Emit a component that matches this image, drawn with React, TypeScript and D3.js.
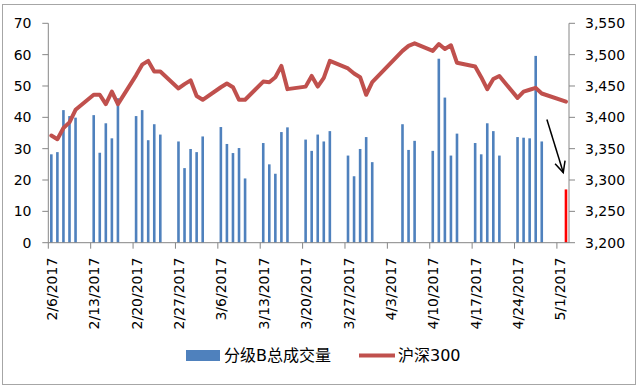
import React from "react";
import * as d3 from "d3";

const tradeDates: string[] = [
  "2017-02-06","2017-02-07","2017-02-08","2017-02-09","2017-02-10",
  "2017-02-13","2017-02-14","2017-02-15","2017-02-16","2017-02-17",
  "2017-02-20","2017-02-21","2017-02-22","2017-02-23","2017-02-24",
  "2017-02-27","2017-02-28","2017-03-01","2017-03-02","2017-03-03",
  "2017-03-06","2017-03-07","2017-03-08","2017-03-09","2017-03-10",
  "2017-03-13","2017-03-14","2017-03-15","2017-03-16","2017-03-17",
  "2017-03-20","2017-03-21","2017-03-22","2017-03-23","2017-03-24",
  "2017-03-27","2017-03-28","2017-03-29","2017-03-30","2017-03-31",
  "2017-04-05","2017-04-06","2017-04-07",
  "2017-04-10","2017-04-11","2017-04-12","2017-04-13","2017-04-14",
  "2017-04-17","2017-04-18","2017-04-19","2017-04-20","2017-04-21",
  "2017-04-24","2017-04-25","2017-04-26","2017-04-27","2017-04-28",
  "2017-05-02",
];

const volumeB: number[] = [
  28.2, 28.9, 42.3, 40.4, 39.9,
  40.7, 28.7, 38.1, 33.3, 46.1,
  40.4, 42.3, 32.7, 37.8, 34.5,
  32.3, 23.8, 29.9, 28.9, 33.9,
  36.9, 31.5, 28.6, 30.2, 20.5,
  31.8, 25.0, 22.0, 35.3, 36.8,
  32.9, 29.3, 34.5, 32.3, 35.6,
  27.8, 21.2, 29.9, 33.7, 25.7,
  37.8, 29.6, 32.5,
  29.3, 58.7, 46.3, 27.8, 34.8,
  31.8, 28.2, 38.1, 35.6, 27.8,
  33.7, 33.5, 33.3, 59.6, 32.3,
  17.0,
];

const hs300: number[] = [
  3371, 3365, 3383, 3392, 3412,
  3436, 3436, 3421, 3441, 3421,
  3467, 3484, 3490, 3473, 3473,
  3446, 3453, 3459, 3434, 3428,
  3448, 3454, 3448, 3428, 3428,
  3457, 3456, 3464, 3482, 3445,
  3449, 3466, 3449, 3463, 3490,
  3478, 3470, 3464, 3436, 3456,
  3506, 3514, 3518,
  3506, 3517, 3509, 3515, 3487,
  3481, 3464, 3445, 3461, 3466,
  3431, 3441, 3444, 3447, 3438,
  3425,
];

const xTickDates: string[] = [
  "2017-02-06","2017-02-13","2017-02-20","2017-02-27","2017-03-06","2017-03-13",
  "2017-03-20","2017-03-27","2017-04-03","2017-04-10","2017-04-17","2017-04-24","2017-05-01",
];
const leftTicks: number[] = [0, 10, 20, 30, 40, 50, 60, 70];
const rightTicks: number[] = [3200, 3250, 3300, 3350, 3400, 3450, 3500, 3550];
const seriesNames: string[] = ["分级B总成交量", "沪深300"];
// arrow annotation in data coordinates (days after 2/6, left-axis value)
const arrowFrom = { day: 82.35, value: 39.3 };
const arrowTo = { day: 85.05, value: 22.4 };

const FONT = "'DejaVu Sans', 'Noto Sans CJK SC', sans-serif";
const BLUE = "#4F81BD";
const RED_LINE = "#C0504D";
const AXIS = "#868686";

const parse = d3.utcParse("%Y-%m-%d");
const fmt = d3.utcFormat("%-m/%-d/%Y");

export default function App() {
  const W = 640, H = 390;
  const left = 48.3, right = 569, top = 23.3, bottom = 242.7;
  const dStart = parse("2017-02-06")!;
  const dEnd = parse("2017-05-03")!;
  const x = d3.scaleUtc().domain([dStart, dEnd]).range([left, right]);
  const yL = d3.scaleLinear().domain([0, 70]).range([bottom, top]);
  const yR = d3.scaleLinear().domain([3200, 3550]).range([bottom, top]);
  const half = 12 * 3600 * 1000;
  const dayMs = 24 * 3600 * 1000;
  const cx = (s: string) => x(new Date(parse(s)!.getTime() + half));
  const barW = 2.6;
  const lastIdx = tradeDates.length - 1;

  const linePath = d3
    .line<number>()
    .x((_, i) => cx(tradeDates[i]))
    .y((v) => yR(v))(hs300);

  const ax = (p: { day: number; value: number }) => x(new Date(dStart.getTime() + p.day * dayMs));
  const x1 = ax(arrowFrom), y1 = yL(arrowFrom.value);
  const x2 = ax(arrowTo), y2 = yL(arrowTo.value);
  const ang = Math.atan2(y2 - y1, x2 - x1);
  const headLen = 12, headAng = 0.45;
  const h1 = [x2 - headLen * Math.cos(ang - headAng), y2 - headLen * Math.sin(ang - headAng)];
  const h2 = [x2 - headLen * Math.cos(ang + headAng), y2 - headLen * Math.sin(ang + headAng)];

  return (
    <svg width={W} height={H} style={{ position: "absolute", left: 0, top: 0, background: "#fff" }} fontFamily={FONT}>
      <rect x={0} y={0} width={W} height={H} fill="#fff" />
      <rect x={2.5} y={4.5} width={633} height={380} fill="none" stroke="#A6A6A6" strokeWidth={1} />

      {/* bars */}
      {volumeB.map((v, i) => (
        <rect
          key={"b" + i}
          x={cx(tradeDates[i]) - barW / 2}
          y={yL(v)}
          width={barW}
          height={yL(0) - yL(v)}
          fill={i === lastIdx ? "#FF0000" : BLUE}
        />
      ))}

      {/* line */}
      <path d={linePath || ""} fill="none" stroke={RED_LINE} strokeWidth={4} strokeLinejoin="round" strokeLinecap="round" />

      {/* axes */}
      <line x1={left} y1={top} x2={left} y2={bottom} stroke={AXIS} />
      <line x1={right} y1={top} x2={right} y2={bottom} stroke={AXIS} />
      <line x1={left} y1={bottom} x2={right} y2={bottom} stroke={AXIS} />
      {leftTicks.map((t) => (
        <g key={"l" + t}>
          <line x1={left - 6} x2={left} y1={yL(t)} y2={yL(t)} stroke={AXIS} />
          <text x={31.5} y={yL(t)} dy="0.36em" textAnchor="end" fontSize={14} fill="#000">{t}</text>
        </g>
      ))}
      {rightTicks.map((t) => (
        <g key={"r" + t}>
          <line x1={right} x2={right + 6} y1={yR(t)} y2={yR(t)} stroke={AXIS} />
          <text x={585} y={yR(t)} dy="0.36em" textAnchor="start" fontSize={14} fill="#000">{d3.format(",")(t)}</text>
        </g>
      ))}
      {xTickDates.map((s) => {
        const tx = x(parse(s)!);
        return (
          <g key={"x" + s}>
            <line x1={tx} x2={tx} y1={bottom} y2={bottom + 6} stroke={AXIS} />
            <text
              transform={`translate(${tx + 3.5},${bottom + 15}) rotate(-90)`}
              dy="0.36em"
              textAnchor="end"
              fontSize={14}
              fill="#000"
            >
              {fmt(parse(s)!)}
            </text>
          </g>
        );
      })}

      {/* arrow */}
      <line x1={x1} y1={y1} x2={x2} y2={y2} stroke="#000" strokeWidth={1.5} />
      <polyline points={`${h1[0]},${h1[1]} ${x2},${y2} ${h2[0]},${h2[1]}`} fill="none" stroke="#000" strokeWidth={1.5} />

      {/* legend */}
      <rect x={186} y={350} width={34} height={11} fill={BLUE} />
      <text x={224} y={361} fontSize={16} fill="#000">{seriesNames[0]}</text>
      <line x1={359} x2={395} y1={355.5} y2={355.5} stroke={RED_LINE} strokeWidth={4} />
      <text x={398} y={361} fontSize={16} fill="#000">{seriesNames[1]}</text>
    </svg>
  );
}
